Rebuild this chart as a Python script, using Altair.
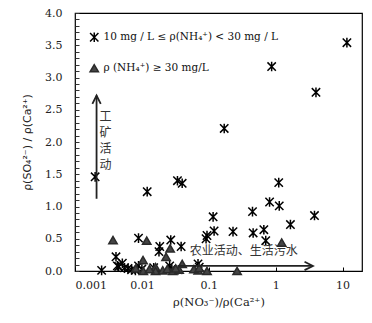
import altair as alt
import pandas as pd

LABEL_A = "10 mg / L ≤ ρ(NH₄⁺)  < 30 mg / L"
LABEL_B = "ρ (NH₄⁺) ≥ 30 mg/L"

cross_x = [11.6, 0.87, 4.0, 0.17, 0.0020, 0.012, 0.034, 0.040, 1.11, 0.81, 1.13,
           0.116, 0.45, 3.8, 1.66, 0.12, 0.23, 0.46, 0.665, 0.71, 0.094, 0.091,
           0.0089, 0.027, 0.0185, 0.0180, 0.0386, 0.0041, 0.0025, 0.0045, 0.0051,
           0.0043, 0.0055, 0.0062, 0.0070, 0.0080, 0.0089, 0.0100, 0.015, 0.026,
           0.028, 0.069, 0.072, 0.035]
cross_y = [3.54, 3.17, 2.77, 2.21, 1.46, 1.23, 1.40, 1.36, 1.37, 1.07, 1.01,
           0.84, 0.92, 0.86, 0.72, 0.62, 0.61, 0.59, 0.64, 0.47, 0.55, 0.50,
           0.51, 0.48, 0.38, 0.30, 0.38, 0.22, 0.01, 0.07, 0.12,
           0.08, 0.05, 0.04, 0.02, 0.01, 0.08, 0.03, 0.05, 0.08,
           0.03, 0.11, 0.06, 0.02]

tri_x = [0.0037, 0.0118, 0.0104, 0.0264, 0.023, 0.040, 1.23, 0.265, 0.094, 0.0695,
         0.060, 0.072, 0.0105, 0.0081, 0.016, 0.016, 0.0205, 0.024, 0.029, 0.036,
         0.013, 0.032]
tri_y = [0.48, 0.47, 0.17, 0.35, 0.22, 0.11, 0.44, 0.0, 0.0, 0.01,
         0.03, 0.05, 0.0, 0.04, 0.06, 0.0, 0.01, 0.03, 0.0, 0.02,
         0.03, 0.04]

x_ticks = [0.001, 0.01, 0.1, 1, 10]
y_ticks = [i / 10 for i in range(41)]

# annotation values
v_arrow_x = [0.0021, 0.0021]
v_arrow_y = [1.12, 2.72]
h_arrow_x = [0.035, 3.6]
h_arrow_y = [0.078, 0.078]
v_text = {"x": [0.00285], "y": [2.47], "t": ["工\n矿\n活\n动"]}
h_text = {"x": [0.052], "y": [0.31], "t": ["农业活动、生活污水"]}

df = pd.DataFrame({
    "x": cross_x + tri_x,
    "y": cross_y + tri_y,
    "group": [LABEL_A] * len(cross_x) + [LABEL_B] * len(tri_x),
})

SERIF = "DejaVu Serif"
SANS = "DejaVu Sans"
CJK = "Noto Sans CJK SC"
CROSS = "M-1,-1L1,1M-1,1L1,-1M0,-1.15L0,1.15"

x_enc = alt.X("x:Q",
              scale=alt.Scale(type="log", domain=[0.001, 19.5], nice=False),
              axis=alt.Axis(values=x_ticks, format="~g", domain=False, grid=False,
                            offset=-4, tickSize=4, tickColor="#000",
                            labelPadding=8, labelFont=SERIF, labelFontSize=11,
                            labelColor="#222",
                            title="ρ(NO₃⁻)/ρ(Ca²⁺)", titleFont=SERIF,
                            titleFontSize=11.5, titleFontWeight="normal",
                            titleColor="#222", titlePadding=6))
y_enc = alt.Y("y:Q",
              scale=alt.Scale(domain=[0, 4], nice=False),
              axis=alt.Axis(values=y_ticks,
                            labelExpr="abs(datum.value*2 - round(datum.value*2)) < 0.001 ? format(datum.value, '.1f') : ''",
                            domain=False, grid=False, offset=-4, tickSize=4,
                            tickColor="#333", labelPadding=13, labelFont=SERIF,
                            labelFontSize=11, labelColor="#222",
                            title="ρ(SO₄²⁻) / ρ(Ca²⁺)", titleFont=SANS,
                            titleFontSize=11, titleFontWeight="normal",
                            titleColor="#222", titlePadding=12))

dom = [LABEL_A, LABEL_B]
points = alt.Chart(df).mark_point(filled=True, size=70, opacity=1, strokeWidth=1.5).encode(
    x=x_enc, y=y_enc,
    shape=alt.Shape("group:N", title=None, scale=alt.Scale(domain=dom, range=[CROSS, "triangle-up"])),
    fill=alt.Fill("group:N", title=None, scale=alt.Scale(domain=dom, range=["transparent", "#444444"])),
    stroke=alt.Stroke("group:N", title=None, scale=alt.Scale(domain=dom, range=["#000000", "#2a2a2a"])),
)

vline = alt.Chart(pd.DataFrame({"x": v_arrow_x, "y": v_arrow_y})).mark_line(
    color="#222", strokeWidth=1.8).encode(x=x_enc, y=y_enc)
vhead = alt.Chart(pd.DataFrame({"x": v_arrow_x[1:], "y": v_arrow_y[1:]})).mark_point(
    shape="M-1,2L0,0L1,2", size=70, filled=False, color="#222", strokeWidth=1.8, opacity=1
).encode(x=x_enc, y=y_enc)
hline = alt.Chart(pd.DataFrame({"x": h_arrow_x, "y": h_arrow_y})).mark_line(
    color="#222", strokeWidth=1.8).encode(x=x_enc, y=y_enc)
hhead = alt.Chart(pd.DataFrame({"x": h_arrow_x[1:], "y": h_arrow_y[1:]})).mark_point(
    shape="M-2,-1L0,0L-2,1", size=70, filled=False, color="#222", strokeWidth=1.8, opacity=1
).encode(x=x_enc, y=y_enc)

vtext = alt.Chart(pd.DataFrame(v_text)).mark_text(
    align="center", baseline="top", lineBreak="\n", lineHeight=16,
    fontSize=12, color="#333", font=CJK).encode(x=x_enc, y=y_enc, text="t:N")
htext = alt.Chart(pd.DataFrame(h_text)).mark_text(
    align="left", baseline="middle", fontSize=12, color="#333",
    font=CJK).encode(x=x_enc, y=y_enc, text="t:N")

chart = alt.layer(points, vline, vhead, hline, hhead, vtext, htext).properties(
    width=287, height=258,
    autosize=alt.AutoSizeParams(type="none"),
    padding={"left": 75, "top": 13, "right": 10, "bottom": 52},
).configure_view(stroke="#000", strokeWidth=1.2).configure_legend(
    orient="none", legendX=14, legendY=19, rowPadding=15,
    labelFont=SERIF, labelFontSize=10.5, labelColor="#111", labelLimit=400,
    symbolSize=70, symbolStrokeWidth=1.5, labelOffset=4, padding=0,
)

chart.save("out.html", embed_options={"renderer": "svg", "actions": False})
